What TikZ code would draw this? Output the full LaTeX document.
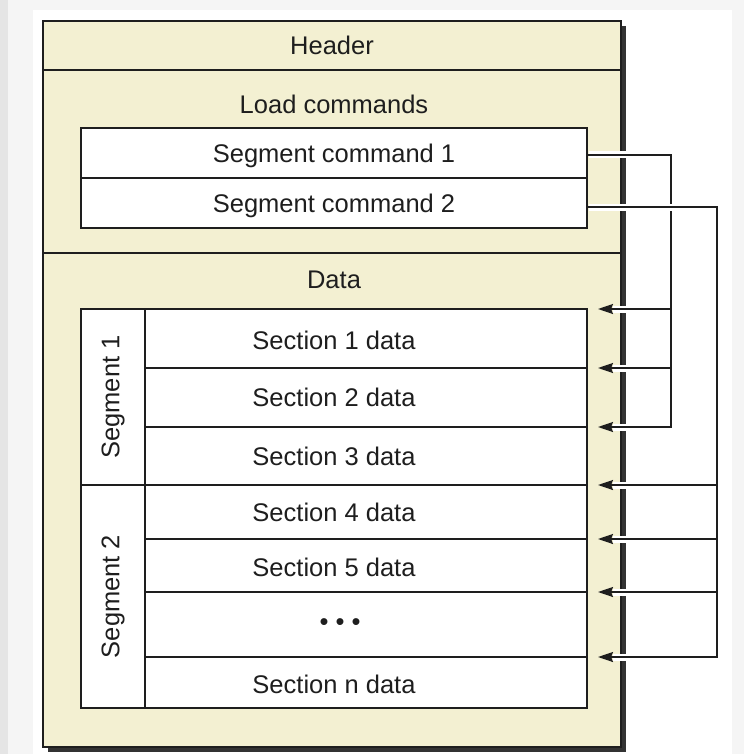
\documentclass[tikz,border=0pt]{standalone}
\usepackage{fontspec}
\setmainfont{Liberation Sans}
\usepackage{xcolor}
\usepackage{tikz}
\usetikzlibrary{arrows.meta,positioning,calc}

\definecolor{paper}{HTML}{F3F0D2}
\definecolor{ink}{HTML}{1E1E1E}
\definecolor{framedark}{HTML}{333333}

\tikzset{
  part box/.style  = {draw=ink, line width=1.8pt, fill=paper, minimum width=578pt,
                      inner sep=0pt, outer sep=0pt},
  cmd box/.style   = {draw=ink, line width=1.8pt, fill=white, minimum width=506pt,
                      minimum height=50pt, inner sep=0pt, outer sep=0pt,
                      text depth=0pt, font=\fontsize{25.5}{30}\selectfont, text=ink},
  seg box/.style   = {draw=ink, line width=1.8pt, fill=white, minimum width=64pt,
                      inner sep=0pt, outer sep=0pt},
  sec box/.style   = {draw=ink, line width=1.8pt, fill=white, minimum width=442pt,
                      inner sep=0pt, outer sep=0pt},
  big text/.style  = {font=\fontsize{25.5}{30}\selectfont, text=ink},
  link/.style      = {draw=ink, line width=1.7pt,
                      preaction={draw=white, line width=7pt, -,
                                 shorten <=1.5pt, shorten >=15pt}},
  link arr/.style  = {link, -{Stealth[length=15pt, width=10pt, inset=2pt]}},
}

\begin{document}
\begin{tikzpicture}[x=1pt, y=-1pt]

  %% --- page ------------------------------------------------------
  \useasboundingbox (0,0) rectangle (744,754);
  \fill[black!4] (0,0) rectangle (744,754);
  \fill[black!10] (0,0) rectangle (8,754);
  \fill[white] (33,10) rectangle (732,754);

  %% --- file frame ------------------------------------------------
  \fill[framedark] (48,26) rectangle (626,752);
  \node[part box, minimum height=49pt, anchor=north west, big text] (header) at (43,21) {Header};
  \node[part box, minimum height=183pt, below=0pt of header] (load) {};
  \node[part box, minimum height=494pt, below=0pt of load] (data) {};

  \node[big text] (loadtxt) at (334,104) {Load commands};
  \node[big text] (datatxt) at (334,280) {Data};

  %% --- load commands ---------------------------------------------
  \node[cmd box, anchor=north west] (cmd1) at (81,128) {Segment command 1};
  \node[cmd box, below=0pt of cmd1] (cmd2) {Segment command 2};

  %% --- segments --------------------------------------------------
  \node[seg box, minimum height=176pt, anchor=north west,
        label={[big text, rotate=90]center:Segment 1}] (seg1) at (81,309) {};
  \node[seg box, minimum height=223pt, below=0pt of seg1,
        label={[big text, rotate=90]center:Segment 2}] (seg2) {};

  %% --- sections --------------------------------------------------
  \node[sec box, minimum height=59pt, anchor=north west,
        label={[big text, xshift=-32pt, yshift=-2pt]center:Section 1 data}] (s1) at (145,309) {};
  \node[sec box, minimum height=59pt, below=0pt of s1,
        label={[big text, xshift=-32pt]center:Section 2 data}] (s2) {};
  \node[sec box, minimum height=58pt, below=0pt of s2,
        label={[big text, xshift=-32pt]center:Section 3 data}] (s3) {};
  \node[sec box, minimum height=54pt, below=0pt of s3,
        label={[big text, xshift=-32pt]center:Section 4 data}] (s4) {};
  \node[sec box, minimum height=53pt, below=0pt of s4,
        label={[big text, xshift=-32pt, yshift=-2pt]center:Section 5 data}] (s5) {};
  \node[sec box, minimum height=65pt, below=0pt of s5,
        label={[big text, xshift=-26pt]center:\textbullet\ \textbullet\ \textbullet}] (s6) {};
  \node[sec box, minimum height=51pt, below=0pt of s6,
        label={[big text, xshift=-32pt, yshift=-2pt]center:Section n data}] (s7) {};

  %% --- segment command links -------------------------------------
  \coordinate (bus1) at (671,0);
  \coordinate (bus2) at (717,0);

  \draw[link arr] ([yshift=-2pt]cmd1.east) -| (bus1 |- s3.north)
                  -- ([xshift=11pt]s3.north east);
  \draw[link arr] ([yshift=-4pt]cmd2.east) -| (bus2 |- s7.north)
                  -- ([xshift=11pt]s7.north east);

  \foreach \s in {s1,s2}
    \draw[link arr] (bus1 |- \s.north) -- ([xshift=11pt]\s.north east);
  \foreach \s in {s4,s5,s6}
    \draw[link arr] (bus2 |- \s.north) -- ([xshift=11pt]\s.north east);
\end{tikzpicture}
\end{document}
